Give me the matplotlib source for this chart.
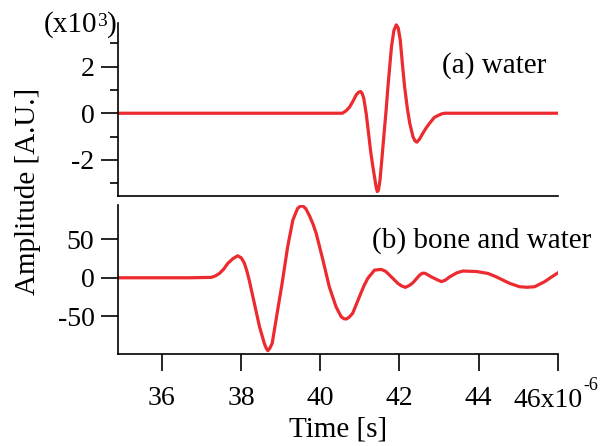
import matplotlib
matplotlib.use("Agg")
import matplotlib.pyplot as plt

plt.rcParams['font.family'] = ['Liberation Serif', 'DejaVu Serif']
plt.rcParams['axes.unicode_minus'] = False

# (a) water: time in microseconds, amplitude in x10^3
t_water = [34.9, 40.56, 40.65, 40.74, 40.83, 40.91, 40.97, 41.02, 41.06, 41.10, 41.16,
           41.22, 41.28, 41.33, 41.37, 41.41, 41.44, 41.47, 41.51, 41.56, 41.62,
           41.67, 41.71, 41.76, 41.80, 41.86, 41.92, 41.97, 42.02, 42.07, 42.13,
           42.20, 42.26, 42.34, 42.39, 42.44, 42.51, 42.59, 42.67, 42.76, 42.88,
           42.97, 43.06, 43.14, 46.0]
a_water = [0, 0, 0.10, 0.26, 0.52, 0.79, 0.90, 0.93, 0.85, 0.64, 0.0,
           -0.85, -1.72, -2.30, -2.72, -3.15, -3.36, -3.30, -2.86, -1.90, -0.72,
           0.25, 1.14, 2.10, 2.86, 3.55, 3.79, 3.65, 3.15, 2.20, 1.14,
           0.20, -0.43, -1.00, -1.18, -1.24, -1.10, -0.86, -0.64, -0.43, -0.18,
           -0.10, -0.03, 0, 0]

# (b) bone and water
t_bone = [34.9, 36.70, 37.25, 37.36, 37.46, 37.57, 37.67, 37.80, 37.92, 38.01, 38.09,
          38.15, 38.21, 38.34, 38.47, 38.59, 38.64, 38.68, 38.73, 38.79, 38.90,
          39.04, 39.18, 39.31, 39.43, 39.50, 39.56, 39.64, 39.73, 39.82, 39.90,
          40.07, 40.23, 40.40, 40.53, 40.60, 40.66, 40.73, 40.82, 40.99, 41.10,
          41.20, 41.37, 41.54, 41.65, 41.75, 41.96, 42.05, 42.15, 42.25, 42.34,
          42.51, 42.58, 42.65, 42.80, 42.97, 43.06, 43.16, 43.27, 43.45, 43.60,
          43.94, 44.23, 44.44, 44.78, 45.03, 45.22, 45.41, 45.66, 45.85, 46.0]
a_bone = [0, 0, 0.5, 2.5, 5.7, 11.5, 18.8, 25.0, 28.7, 26.0, 18.8,
          9.0, -3.0, -33.4, -63.9, -85.5, -92.0, -95.2, -92.0, -85.5, -50.8,
          -7.3, 40.4, 75.2, 90.5, 93.5, 93.9, 90.0, 81.0, 70.0, 57.9,
          23.1, -11.7, -37.8, -50.8, -53.5, -53.8, -51.5, -46.4, -24.8, -11.0,
          -0.8, 10.0, 10.9, 8.5, 3.5, -7.3, -10.5, -12.5, -10.0, -6.5,
          3.5, 6.0, 5.8, 1.3, -3.0, -5.0, -3.0, 1.3, 6.5, 8.8,
          8.2, 5.7, 1.3, -7.3, -11.7, -12.4, -11.7, -5.2, 1.5, 6.5]

xticks = [36, 38, 40, 42, 44, 46]
xticklabels = ['36', '38', '40', '42', '44', '']
last_label = '46x10'
last_exp = '-6'

red = '#ec2a30'
W, H = 616, 446
fig = plt.figure(figsize=(W / 100, H / 100), dpi=100)

L, R = 118 / W, 558 / W
ax1 = fig.add_axes([L, 1 - 196 / H, R - L, (196 - 23) / H])
ax2 = fig.add_axes([L, 1 - 354 / H, R - L, (354 - 205) / H])

ax1.plot(t_water, a_water, color=red, lw=2.3, solid_joinstyle='round')
ax2.plot(t_bone, a_bone, color=red, lw=2.3, solid_joinstyle='round')

for ax in (ax1, ax2):
    ax.set_xlim(34.9, 46.0)
    ax.spines['top'].set_visible(False)
    ax.spines['right'].set_visible(False)
    for s in ('left', 'bottom'):
        ax.spines[s].set_linewidth(1.2)
    ax.tick_params(axis='both', which='major', direction='out', length=12,
                   width=1.2, labelsize=20, color='black')
    ax.tick_params(axis='y', which='major', pad=5)
    ax.tick_params(axis='both', which='minor', direction='out', length=6, width=1.2)

ax1.set_ylim(-3.55, 3.87)
ax1.set_yticks([-2, 0, 2])
ax1.set_yticklabels(['-2', '0', '2'])
ax1.set_yticks([-3, -1, 1, 3], minor=True)
ax1.set_xticks([])
ax1.tick_params(axis='x', which='both', bottom=False, labelbottom=False)

ax2.set_ylim(-99.5, 95)
ax2.set_yticks([-50, 0, 50])
ax2.set_yticklabels(['-50', '0', '50'])
ax2.set_xticks(xticks)
ax2.set_xticklabels(xticklabels)
ax2.tick_params(axis='x', which='major', pad=11)

ax2.set_xlabel('Time [s]', fontsize=21, labelpad=4)

# last x tick label "46x10^-6", centred as a whole on the 46 tick
fig.text(513 / W, 1 - 407 / H, last_label, fontsize=20, ha='left', va='baseline')
fig.text(583 / W, 1 - 390 / H, last_exp, fontsize=13, ha='left', va='baseline')

fig.text(28 / W, 1 - 191.5 / H, 'Amplitude [A.U.]', rotation=90, fontsize=21,
         ha='center', va='center')
fig.text(97 / W, 1 - 32 / H, '(x10', fontsize=21, ha='right', va='baseline')
fig.text(97.5 / W, 1 - 26 / H, '3', fontsize=14, ha='left', va='baseline')
fig.text(107.5 / W, 1 - 32 / H, ')', fontsize=21, ha='left', va='baseline')
fig.text(442 / W, 1 - 73 / H, '(a) water', fontsize=21, ha='left', va='baseline')
fig.text(372 / W, 1 - 248 / H, '(b) bone and water', fontsize=21, ha='left', va='baseline')

fig.savefig('out.png', dpi=100)
